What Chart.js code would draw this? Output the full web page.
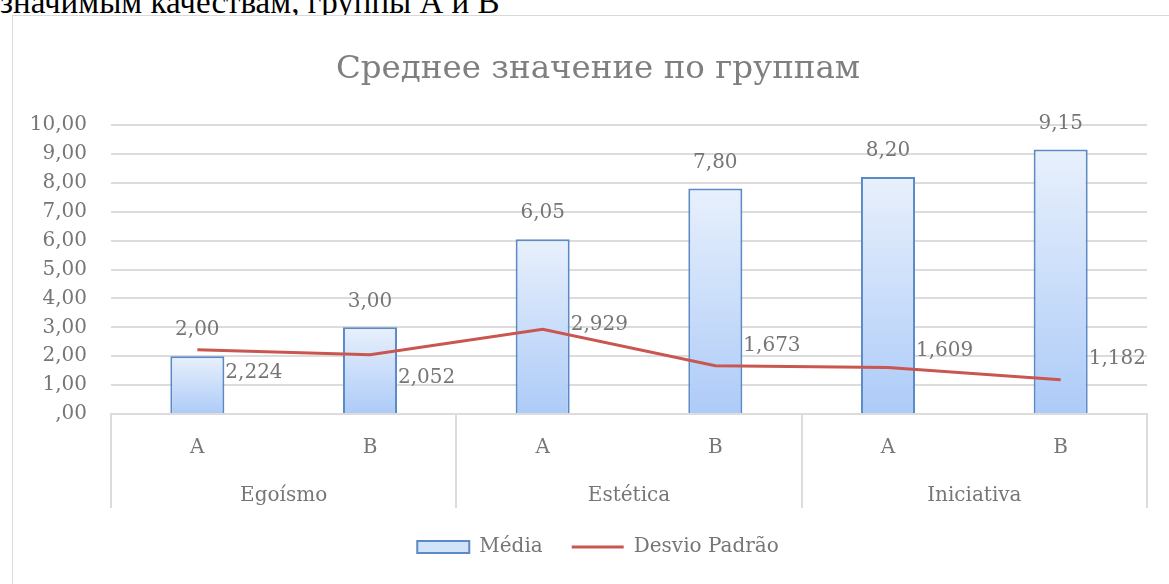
<!DOCTYPE html>
<html>
<head>
<meta charset="utf-8">
<script src="https://cdn.jsdelivr.net/npm/chart.js@4"></script>
<style>
  html, body { margin: 0; padding: 0; background: #fff; overflow: hidden; width: 1169px; height: 584px; }
  #caption { position: absolute; left: 0; top: -14px; font: 33px/1 "Liberation Serif", serif; color: #000; white-space: nowrap; }
  #box { position: absolute; left: 12px; top: 15px; width: 1170px; height: 600px; border: 1px solid #D9D9D9; background: #fff; }
</style>
</head>
<body>
<div id="caption">значимым качествам, группы А и В</div>
<div id="box"><canvas id="mychart"></canvas></div>
<script>
var chartCanvas = document.getElementById("mychart");

/* data */
var subgroups = ['A', 'B', 'A', 'B', 'A', 'B'];
var groups = ['Egoísmo', 'Estética', 'Iniciativa'];
var media = [2.00, 3.00, 6.05, 7.80, 8.20, 9.15];
var desvio = [2.224, 2.052, 2.929, 1.673, 1.609, 1.182];
var yTickLabels = [',00', '1,00', '2,00', '3,00', '4,00', '5,00', '6,00', '7,00', '8,00', '9,00', '10,00'];

// vertical shift of each Desvio label (px), as placed in the original
var desvioLabelShift = [23, 23, -5, -20, -17, -21];

var fontFamily = '"DejaVu Serif", serif';
var textGray = '#767676';
var lineGray = '#DCDCDC';
var barBorder = '#5B8AC6';
var lineRed = '#C9564F';

function fmt(v, d) {
  var s = v.toFixed(d).replace('.', ',');
  return s.indexOf('0,') === 0 ? s.slice(1) : s;
}

// value labels drawn next to bars and line
var valueLabels = {
  id: 'valueLabels',
  afterDatasetsDraw: function(chart) {
    var ctx = chart.ctx;
    ctx.save();
    ctx.font = '20px ' + fontFamily;
    ctx.fillStyle = textGray;
    ctx.textBaseline = 'middle';
    chart.getDatasetMeta(0).data.forEach(function(el, i) {
      ctx.textAlign = 'center';
      ctx.fillText(fmt(media[i], 2), el.x, el.y - 26);
    });
    chart.getDatasetMeta(1).data.forEach(function(el, i) {
      ctx.textAlign = 'left';
      ctx.fillText(fmt(desvio[i], 3), el.x + 28, el.y + desvioLabelShift[i]);
    });
    ctx.restore();
  }
};

// group separators under the category axis
var groupLines = {
  id: 'groupLines',
  afterDraw: function(chart) {
    var x = chart.scales.x, x2 = chart.scales.x2;
    var ctx = chart.ctx;
    var step = (x.right - x.left) / groups.length;
    ctx.save();
    ctx.strokeStyle = lineGray;
    ctx.lineWidth = 2;
    for (var k = 0; k <= groups.length; k++) {
      var px = Math.round(x.left + k * step);
      ctx.beginPath();
      ctx.moveTo(px, x.top);
      ctx.lineTo(px, x2.bottom);
      ctx.stroke();
    }
    ctx.restore();
  }
};

function barGradient(context) {
  var chart = context.chart;
  if (!chart.chartArea || context.type !== 'data') return '#D3E3FA';
  var top = chart.scales.y.getPixelForValue(context.raw);
  var bottom = chart.scales.y.getPixelForValue(0);
  var g = chart.ctx.createLinearGradient(0, top, 0, bottom);
  g.addColorStop(0, '#E8F0FC');
  g.addColorStop(1, '#ADCBF8');
  return g;
}

var mychart = new Chart(chartCanvas, {
  data: {
    labels: subgroups,
    datasets: [{
      type: 'bar',
      label: 'Média',
      data: media,
      backgroundColor: barGradient,
      borderColor: barBorder,
      borderWidth: 2,
      categoryPercentage: 1,
      barPercentage: 0.313,
      order: 2
    }, {
      type: 'line',
      label: 'Desvio Padrão',
      data: desvio,
      borderColor: lineRed,
      backgroundColor: lineRed,
      borderWidth: 3,
      pointRadius: 0,
      tension: 0,
      order: 1
    }]
  },
  options: {
    responsive: true,
    maintainAspectRatio: false,
    animation: false,
    layout: { padding: { left: 0, right: 0, top: 0, bottom: 49 } },
    plugins: {
      title: {
        display: true,
        text: 'Среднее значение по группам',
        color: '#7F7F7F',
        font: { family: fontFamily, size: 32.5, weight: 'normal', lineHeight: 1.2 },
        padding: { top: 34, bottom: 36 }
      },
      legend: {
        position: 'bottom',
        labels: {
          color: textGray,
          font: { family: fontFamily, size: 20 },
          usePointStyle: true,
          pointStyleWidth: 52,
          boxHeight: 12,
          padding: 29,
          sort: function(a, b) { return a.datasetIndex - b.datasetIndex; },
          generateLabels: function(chart) {
            var items = Chart.defaults.plugins.legend.labels.generateLabels(chart);
            items.forEach(function(it) {
              if (it.datasetIndex === 0) {
                it.pointStyle = 'rect';
                it.fillStyle = '#D3E3FA';
                it.strokeStyle = barBorder;
                it.lineWidth = 2;
              } else {
                it.pointStyle = 'line';
                it.strokeStyle = lineRed;
                it.lineWidth = 3;
              }
            });
            return items;
          }
        }
      },
      tooltip: { enabled: false }
    },
    scales: {
      y: {
        min: 0,
        max: 10,
        ticks: {
          stepSize: 1,
          color: textGray,
          padding: 24,
          font: { family: fontFamily, size: 20 },
          callback: function(v, i) { return yTickLabels[i]; }
        },
        grid: { color: lineGray, lineWidth: 2, drawTicks: false },
        border: { display: false },
        afterFit: function(scale) { scale.width = 98; }
      },
      // empty space on the right of the plot
      yRight: {
        type: 'linear',
        position: 'right',
        grid: { display: false, drawTicks: false },
        border: { display: false },
        ticks: { display: false },
        afterFit: function(scale) { scale.width = 36; }
      },
      x: {
        type: 'category',
        labels: subgroups,
        position: 'bottom',
        weight: 0,
        grid: { display: false, drawTicks: false },
        border: { display: true, color: lineGray, width: 2 },
        ticks: { color: textGray, padding: 22, maxRotation: 0, autoSkip: false, font: { family: fontFamily, size: 20 } },
        afterFit: function(scale) { scale.height = 56; }
      },
      x2: {
        type: 'category',
        labels: groups,
        position: 'bottom',
        weight: 1,
        offset: true,
        grid: { display: false, drawTicks: false },
        border: { display: false },
        ticks: { color: textGray, padding: 14, maxRotation: 0, autoSkip: false, font: { family: fontFamily, size: 20 } },
        afterFit: function(scale) { scale.height = 38; }
      }
    }
  },
  plugins: [valueLabels, groupLines]
});
</script>
</body>
</html>
